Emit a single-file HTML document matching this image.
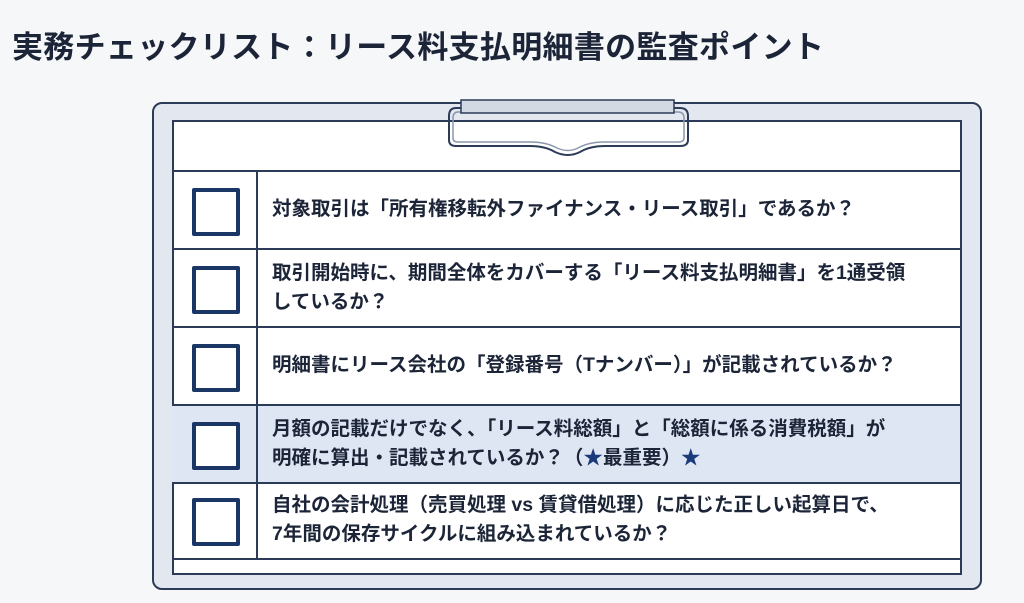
<!DOCTYPE html>
<html><head><meta charset="utf-8"><style>
body{margin:0;width:1024px;height:603px;overflow:hidden;background:#f6f7f9;font-family:"Liberation Sans","Noto Sans CJK JP",sans-serif;position:relative}
.t{position:absolute;left:12px;top:22px;font-size:31px;font-weight:bold;color:#1c2538;letter-spacing:0.3px;white-space:nowrap}
.board{position:absolute;left:152px;top:102px;width:826px;height:484px;background:#e3e8f0;border:2px solid #2c3b57;border-radius:10px}
.paper{position:absolute;left:172px;top:120px;width:786px;height:451px;background:#fff;border:2px solid #2c3b57}
.row{position:absolute;left:172px;width:788px;border-top:2px solid #2c3b57;box-sizing:border-box}
.row .div{position:absolute;left:84px;top:0;bottom:0;border-left:2px solid #2c3b57}
.cb{position:absolute;left:20px;width:40px;height:40px;border:4px solid #1a3664;border-radius:2px;background:#fff}
.tx{position:absolute;left:100px;font-size:19.5px;font-weight:bold;color:#1c2538;line-height:29px;white-space:nowrap}
</style></head><body>
<div class="t">実務チェックリスト：リース料支払明細書の監査ポイント</div>
<div class="board"></div>
<div class="paper"></div>
<svg style="position:absolute;left:0;top:0" width="1024" height="603">
<path d="M456 108 Q449 108 449 116 L449 140 Q449 146 456 146 L530 146 Q545 146 555 152 Q568 158 580 152 Q590 146 605 146 L680 146 Q688 146 688 140 L688 116 Q688 108 680 108 Z" fill="none" stroke="#2c3b57" stroke-width="2"/>
<path d="M458 112 L678 112 Q684 112 684 118 L684 138 Q684 142 678 142 L604 142 Q589 142 578 148 Q568 153 557 148 Q546 142 531 142 L458 142 Q453 142 453 138 L453 118 Q453 112 458 112 Z" fill="none" stroke="#8a97ad" stroke-width="1.5"/>
<rect x="461" y="100" width="213" height="13" fill="#d3d9e3" stroke="#2c3b57" stroke-width="1.5"/>
</svg>
<div class="row" style="top:170px;height:78px"><div class="div"></div><div class="cb" style="top:16px"></div><div class="tx" style="top:23px">対象取引は「所有権移転外ファイナンス・リース取引」であるか？</div></div>
<div class="row" style="top:248px;height:78px"><div class="div"></div><div class="cb" style="top:16px"></div><div class="tx" style="top:9px">取引開始時に、期間全体をカバーする「リース料支払明細書」を1通受領<br>しているか？</div></div>
<div class="row" style="top:326px;height:78px"><div class="div"></div><div class="cb" style="top:16px"></div><div class="tx" style="top:23px">明細書にリース会社の「登録番号（Tナンバー）」が記載されているか？</div></div>
<div class="row" style="top:404px;height:78px;background:#dfe6f3"><div class="div"></div><div class="cb" style="top:16px"></div><div class="tx" style="top:9px">月額の記載だけでなく、「リース料総額」と「総額に係る消費税額」が<br>明確に算出・記載されているか？（<span style="color:#1a3a7a">★</span>最重要）<span style="color:#1a3a7a">★</span></div></div>
<div class="row" style="top:482px;height:77px"><div class="div"></div><div class="cb" style="top:14px"></div><div class="tx" style="top:7px">自社の会計処理（売買処理 vs 賃貸借処理）に応じた正しい起算日で、<br>7年間の保存サイクルに組み込まれているか？</div></div>
<div class="row" style="top:558px;height:2px"></div>
</body></html>
